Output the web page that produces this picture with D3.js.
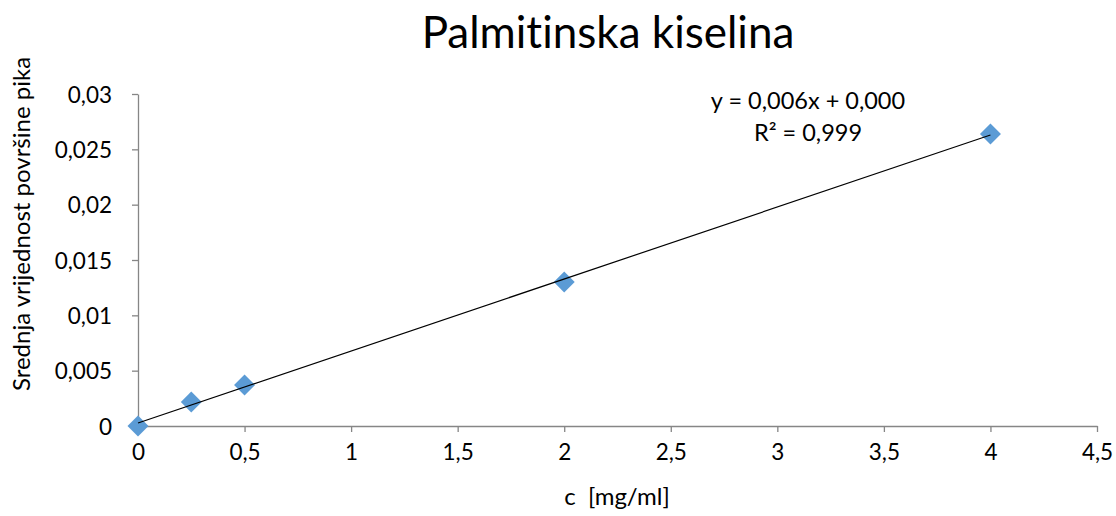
<!DOCTYPE html>
<html><head><meta charset="utf-8">
<script src="https://cdn.jsdelivr.net/npm/d3@7"></script>
<style>body{margin:0;background:#fff}svg{display:block}text{font-family:Lato,"Open Sans",sans-serif;fill:#000;white-space:pre;font-variant-ligatures:none;font-feature-settings:"liga" 0}</style>
</head><body><svg id="c" width="1116" height="516"></svg>
<script>
const concentrations = [0, 0.25, 0.5, 2, 4];
const peakAreas = [0, 0.00217, 0.0037, 0.01301, 0.02639];
const xTickValues = [0, 0.5, 1, 1.5, 2, 2.5, 3, 3.5, 4, 4.5];
const xTickLabels = ["0", "0,5", "1", "1,5", "2", "2,5", "3", "3,5", "4", "4,5"];
const yTickValues = [0, 0.005, 0.01, 0.015, 0.02, 0.025, 0.03];
const yTickLabels = ["0", "0,005", "0,01", "0,015", "0,02", "0,025", "0,03"];
const titleText = "Palmitinska kiselina";
const xTitle = "c  [mg/ml]";
const yTitle = "Srednja vrijednost površine pika";
const eqLines = ["y = 0,006x + 0,000", "R² = 0,999"];

const svg = d3.select("#c");
const x = d3.scaleLinear().domain([0, 4.5]).range([138, 1097]);
const y = d3.scaleLinear().domain([0, 0.03]).range([426, 94]);
const axisColor = "#868686";

const xa = svg.append("g").attr("transform", `translate(0,${y(0)})`)
  .call(d3.axisBottom(x).tickValues(xTickValues).tickFormat((d,i)=>xTickLabels[i]).tickSize(6).tickSizeOuter(0).tickPadding(12));
const ya = svg.append("g").attr("transform", `translate(${x(0)},0)`)
  .call(d3.axisLeft(y).tickValues(yTickValues).tickFormat((d,i)=>yTickLabels[i]).tickSize(6).tickSizeOuter(0).tickPadding(20));
[xa, ya].forEach(g => {
  g.selectAll("path,line").attr("stroke", axisColor).attr("stroke-width", 1.3);
  g.selectAll("text").attr("font-size", 22.5).attr("font-family", "Lato,'Open Sans',sans-serif").attr("fill", "#000");
});
ya.selectAll("text").attr("dy", "0.36em");

// least squares trendline from data
const n = concentrations.length;
const mx = d3.mean(concentrations), my = d3.mean(peakAreas);
let sxy = 0, sxx = 0;
for (let i = 0; i < n; i++) { sxy += (concentrations[i]-mx)*(peakAreas[i]-my); sxx += (concentrations[i]-mx)**2; }
const slope = sxy/sxx, icpt = my - slope*mx;
const xMin = d3.min(concentrations), xMax = d3.max(concentrations);

const sym = d3.symbol().type(d3.symbolDiamond2).size(280);
svg.append("g").selectAll("path").data(concentrations).join("path")
  .attr("d", sym).attr("transform", (d,i)=>`translate(${x(d)},${y(peakAreas[i])})`)
  .attr("fill", "#5B9BD5");

svg.append("line")
  .attr("x1", x(xMin)).attr("y1", y(icpt + slope*xMin))
  .attr("x2", x(xMax)).attr("y2", y(icpt + slope*xMax))
  .attr("stroke", "#000").attr("stroke-width", 1.2);

svg.append("text").attr("x", 608).attr("y", 48).attr("text-anchor", "middle").attr("font-size", 44).text(titleText);
svg.append("text").attr("x", 617).attr("y", 505).attr("text-anchor", "middle").attr("font-size", 24).text(xTitle);
svg.append("text").attr("transform", "translate(30,224) rotate(-90)").attr("text-anchor", "middle").attr("font-size", 24).text(yTitle);
eqLines.forEach((t, i) => svg.append("text").attr("x", 808).attr("y", 109 + i*32).attr("text-anchor", "middle").attr("font-size", 23.5).text(t));
</script></body></html>
